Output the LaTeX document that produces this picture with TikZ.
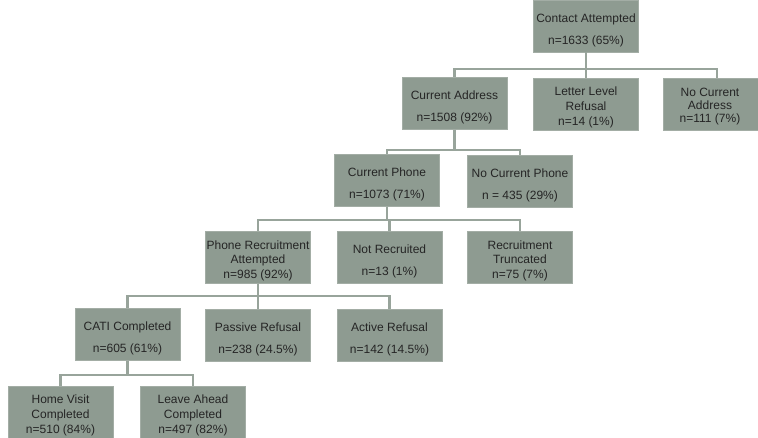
\documentclass[tikz,border=0pt]{standalone}
\usepackage{fontspec}
\setmainfont{Liberation Sans}
\definecolor{boxfill}{HTML}{8E9B91}
\definecolor{boxedge}{HTML}{A3ADA5}
\definecolor{linecol}{HTML}{98A49B}
\definecolor{txt}{HTML}{252525}
\newcommand{\stA}{\rule{0pt}{13pt}}
\newcommand{\stB}{\rule{0pt}{11.5pt}}
\begin{document}
\begin{tikzpicture}[x=0.75pt,y=-0.75pt,
  box/.style={draw=boxedge, line width=0.6pt, fill=boxfill, text=txt,
    minimum width=78.75pt, minimum height=39pt, inner sep=1pt,
    align=center, font=\fontsize{9}{11}\selectfont},
  twoline/.style={box, font=\fontsize{9}{16.5}\selectfont},
  conn/.style={draw=linecol, line width=2pt}]
\useasboundingbox (0,0) rectangle (758,438);
\begin{scope}
\clip (0,0) rectangle (758,438);
% bus levels
\coordinate (b1) at (0,69);
\coordinate (b2) at (0,150);
\coordinate (b3) at (0,220);
\coordinate (b4) at (0,296);
\coordinate (b5) at (0,375);
% nodes
\node[twoline] (ca) at (586,26) {\stA Contact Attempted\\n=1633 (65\%)};
\node[twoline] (cad) at (454.5,103.5) {\stA Current Address\\n=1508 (92\%)};
\node[box] (lr) at (586,104) {\stB Letter Level\\Refusal\\n=14 (1\%)};
\node[box, minimum width=81pt] (nca) at (717,104) {\hspace*{-10.5pt}\begin{tabular}{@{}c@{}}\stB No Current\\[-1.5pt]Address\\[-1.5pt]n=111 (7\%)\end{tabular}};
\node[twoline] (cp) at (387,180.5) {\stA Current Phone\\n=1073 (71\%)};
\node[twoline] (ncp) at (520,181) {\stA No Current Phone\\n = 435 (29\%)};
\node[box] (pra) at (258,257.5) {\stB Phone Recruitment\\Attempted\\n=985 (92\%)};
\node[twoline] (nr) at (389.5,257.5) {\stA Not Recruited\\n=13 (1\%)};
\node[box] (rt) at (520,257.5) {\stB Recruitment\\Truncated\\n=75 (7\%)};
\node[twoline] (cati) at (127.5,334.5) {\stA CATI Completed\\n=605 (61\%)};
\node[twoline] (pr) at (258,335) {\stA Passive Refusal\\n=238 (24.5\%)};
\node[twoline] (ar) at (389.5,335) {\stA Active Refusal\\n=142 (14.5\%)};
\node[box] (hv) at (60.5,412) {\stB Home Visit\\Completed\\n=510 (84\%)};
\node[box] (la) at (193,412) {\stB Leave Ahead\\Completed\\n=497 (82\%)};
% connectors
\foreach \p/\c/\b in {ca/cad/b1, ca/lr/b1, ca/nca/b1,
  cad/cp/b2, cad/ncp/b2,
  cp/pra/b3, cp/nr/b3, cp/rt/b3,
  pra/cati/b4, pra/pr/b4, pra/ar/b4,
  cati/hv/b5, cati/la/b5}
  \draw[conn] (\p.south) |- (\c.north |- \b) -- (\c.north);
\end{scope}
\end{tikzpicture}
\end{document}
